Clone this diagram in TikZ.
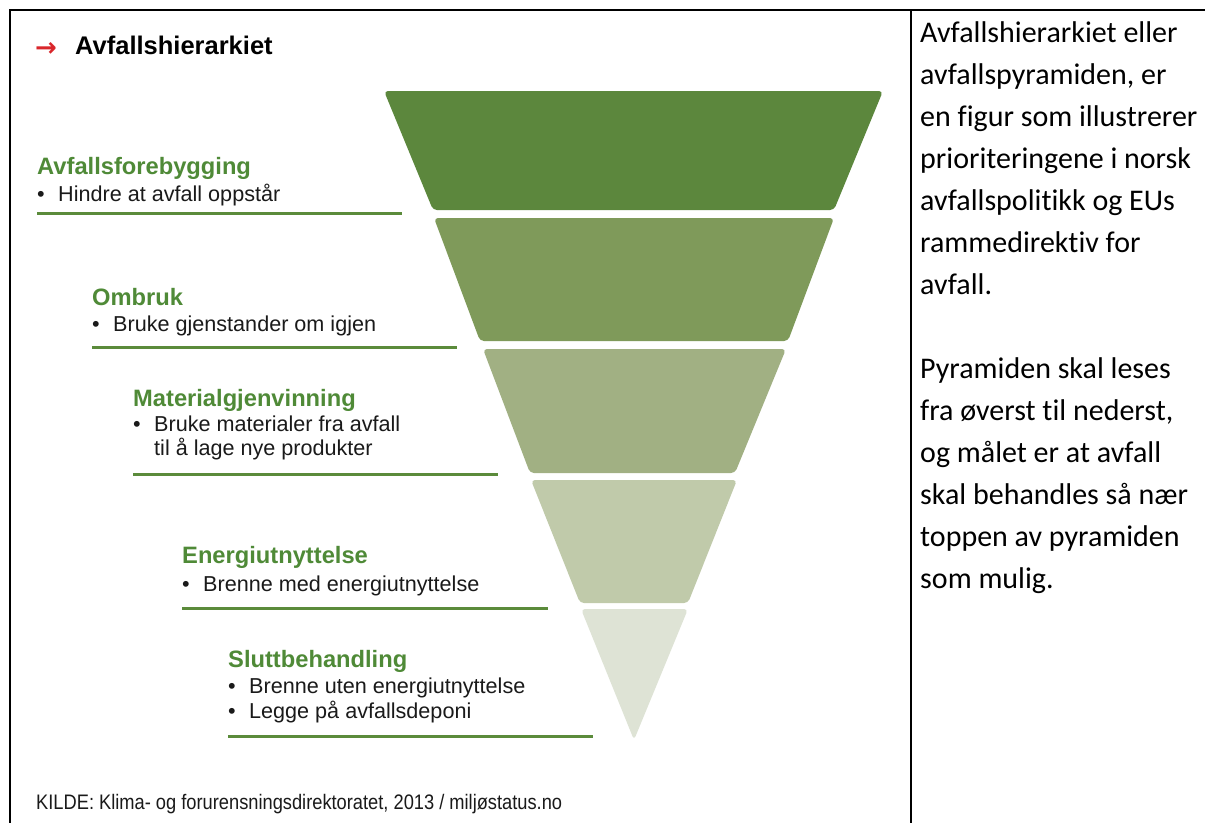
\documentclass[tikz,border=0pt]{standalone}
\usepackage{fontspec}
\setmainfont{Liberation Sans}
\newfontfamily\calib[Ligatures=NoCommon]{Carlito}
\newfontfamily\dejavu{DejaVu Sans}
\definecolor{gA}{HTML}{5C873D}
\definecolor{gB}{HTML}{7F9A5A}
\definecolor{gC}{HTML}{A1B083}
\definecolor{gD}{HTML}{C0CAAA}
\definecolor{gE}{HTML}{DEE3D5}
\definecolor{headgreen}{HTML}{4F8A37}
\definecolor{linegreen}{HTML}{5B8B3B}
\definecolor{arrowred}{HTML}{D9262B}
\definecolor{bodytext}{HTML}{1A1A1A}
\begin{document}
\begin{tikzpicture}[x=1pt,y=-1pt,
  seg/.style={rounded corners=4pt},
  head/.style={anchor=base west, inner sep=0pt, text=headgreen, font=\fontsize{23.7}{28}\selectfont\bfseries},
  bul/.style={anchor=base west, inner sep=0pt, text=bodytext, font=\fontsize{21.6}{26}\selectfont},
  uline/.style={draw=linegreen, line width=3pt},
  rtext/.style={anchor=base west, inner sep=0pt, text=black, font=\calib\fontsize{30}{36}\selectfont},
  frame/.style={draw=black, line width=1.5pt}]
\useasboundingbox (0,0) rectangle (1205,823);
\fill[white] (0,0) rectangle (1205,823);
% table frame
\coordinate (tl) at (10,10);
\coordinate (tr) at (1205,10);
\coordinate (bl) at (10,823);
\coordinate (dt) at (911,10);
\coordinate (db) at (911,823);
\draw[frame] (tr) -- (tl) -- (bl);
\draw[frame, line width=2pt] (dt) -- (db);
% pyramid
\fill[gA, seg] (384,91) -- (883,91) -- (834,210) -- (433,210) -- cycle;
\fill[gB, seg] (434,218) -- (834,218) -- (788,341) -- (480,341) -- cycle;
\fill[gC, seg] (483,349) -- (786,349) -- (735,473) -- (530,473) -- cycle;
\fill[gD, seg] (531,480) -- (737,480) -- (688,603) -- (580,603) -- cycle;
\fill[gE, seg] (581,609) -- (688,609) -- (634,740) -- cycle;
% title
\node[anchor=base west, inner sep=0pt, text=arrowred, font=\dejavu\bfseries\fontsize{26}{30}\selectfont] (arr) at (35,56) {→};
\node[anchor=base west, inner sep=0pt, font=\fontsize{25.5}{30}\selectfont\bfseries] (title) at (75,54) {Avfallshierarkiet};
% level 1
\node[head] (h1) at (37,174) {Avfallsforebygging};
\node[bul] (b1d) at (37,201) {•};
\node[bul] (b1) at (58,201) {Hindre at avfall oppstår};
\coordinate (u1a) at (37,213); \coordinate (u1b) at (402,213);
\draw[uline] (u1a) -- (u1b);
% level 2
\node[head] (h2) at (92,305) {Ombruk};
\node[bul] (b2d) at (92,331) {•};
\node[bul] (b2) at (113,331) {Bruke gjenstander om igjen};
\coordinate (u2a) at (92,347); \coordinate (u2b) at (457,347);
\draw[uline] (u2a) -- (u2b);
% level 3
\node[head] (h3) at (133,406) {Materialgjenvinning};
\node[bul] (b3d) at (133,431) {•};
\node[bul] (b3) at (154,431) {Bruke materialer fra avfall};
\node[bul] (b3b) at (154,455) {til å lage nye produkter};
\coordinate (u3a) at (133,474); \coordinate (u3b) at (498,474);
\draw[uline] (u3a) -- (u3b);
% level 4
\node[head] (h4) at (182,563) {Energiutnyttelse};
\node[bul] (b4d) at (182,591) {•};
\node[bul] (b4) at (203,591) {Brenne med energiutnyttelse};
\coordinate (u4a) at (182,608); \coordinate (u4b) at (548,608);
\draw[uline] (u4a) -- (u4b);
% level 5
\node[head] (h5) at (228,667) {Sluttbehandling};
\node[bul] (b5d) at (228,693) {•};
\node[bul] (b5) at (249,693) {Brenne uten energiutnyttelse};
\node[bul] (b5e) at (228,718) {•};
\node[bul] (b5b) at (249,718) {Legge på avfallsdeponi};
\coordinate (u5a) at (228,736); \coordinate (u5b) at (593,736);
\draw[uline] (u5a) -- (u5b);
% source
\node[bul, font=\fontsize{21}{25}\selectfont] (src) at (36,809) {\scalebox{0.87}[1]{KILDE: Klima- og forurensningsdirektoratet, 2013 / miljøstatus.no}};
% right column
\foreach \t [count=\i from 0] in {Avfallshierarkiet eller, {avfallspyramiden, er}, en figur som illustrerer, prioriteringene i norsk, avfallspolitikk og EUs, rammedirektiv for, avfall., {}, Pyramiden skal leses, {fra øverst til nederst,}, og målet er at avfall, skal behandles så nær, toppen av pyramiden, som mulig.}
  \node[rtext] (r\i) at (920,42+42*\i) {\t};
\end{tikzpicture}
\end{document}
